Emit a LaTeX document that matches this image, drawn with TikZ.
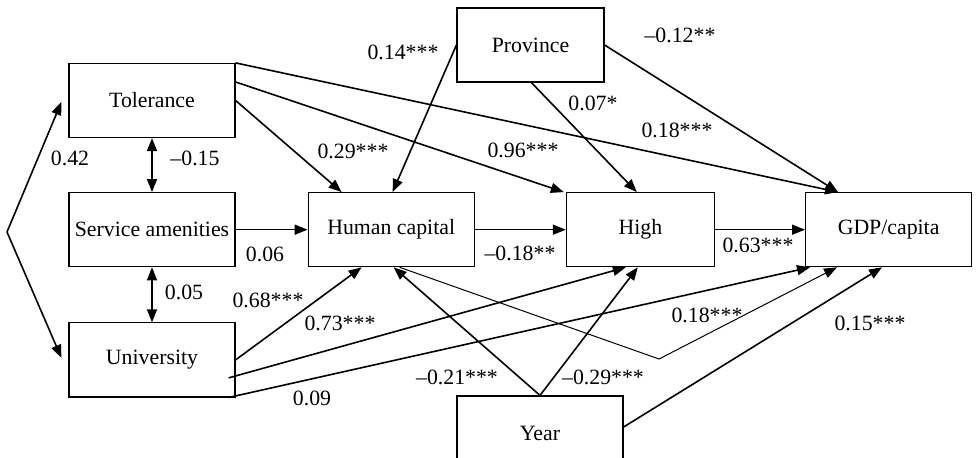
\documentclass[tikz,border=0pt]{standalone}
\usepackage{fontspec}
\setmainfont{Liberation Serif}
\usepackage{tikz}
\usetikzlibrary{arrows.meta, positioning, calc}
\tikzstyle{box}     = [rectangle, draw=black, line width=0.6pt, minimum width=83pt,
                       minimum height=37pt, inner sep=0pt, text centered,
                       font=\fontsize{10.9}{12}\selectfont]
\tikzstyle{coef}    = [inner sep=1pt, font=\fontsize{10.9}{12}\selectfont]
\tikzstyle{arr}     = [-{Triangle[length=6.5pt, width=5pt]}, line width=0.8pt]
\tikzstyle{darr}    = [{Triangle[length=6.5pt, width=5pt]}-{Triangle[length=6.5pt, width=5pt]},
                       line width=0.8pt]
\tikzstyle{arrlight}= [-{Triangle[length=6.5pt, width=5pt]}, line width=0.5pt]

\begin{document}
\begin{tikzpicture}[x=0.5pt, y=-0.5pt]
  \useasboundingbox (0,0) rectangle (977,458);

  \node[box] (tol) at (152,100.5) {Tolerance};
  \node[box, below=27pt of tol] (serv) {Service amenities};
  \node[box, below=27.5pt of serv] (univ) {University};
  \node[box, right=36pt of serv] (hc) {Human capital};
  \node[box, minimum width=74pt, right=45.5pt of hc] (high) {High};
  \node[box, right=45pt of high] (gdp) {GDP/capita};
  \node[box, minimum width=73.5pt] (prov) at (530.5,45) {Province};
  \node[box] (year) at (540,433) {Year};

  \coordinate (fork) at (7,232);
  \draw[arr] (fork) -- ($(tol.west)+(-7,1.5)$);
  \draw[arr] (fork) -- ($(univ.west)+(-7,-2)$);
  \draw[darr] (tol) -- (serv);
  \draw[darr] (serv) -- (univ);
  \draw[arr] (serv) -- (hc);
  \draw[arr] (hc) -- (high);
  \draw[arr] (high) -- (gdp);

  \draw[arr] (tol.north east) -- ($(gdp.north west)+(33,0)$);
  \draw[arr] ($(tol.east)+(0,-18.5)$) -- ($(high.north west)+(-2,0)$);
  \draw[arr] (tol.east) -- ($(hc.north west)+(34,0)$);
  \draw[arr] (prov.west) -- ($(hc.north west)+(85,0)$);
  \draw[arr] ($(prov.south west)+(75,0)$) -- ($(high.north west)+(71,0)$);
  \draw[arr] (prov.east) -- ($(gdp.north west)+(33,0)$);

  \draw[arr] (univ.east) -- ($(hc.south west)+(54,0)$);
  \draw[arr] ($(univ.east)+(-7,18)$) -- ($(high.south west)+(60,0)$);
  \draw[arr] ($(univ.south east)+(-7,0)$) -- ($(gdp.south west)+(5,0)$);

  \coordinate (bend) at (659,359);
  \draw[arrlight] ($(hc.south west)+(92,0)$) -- (bend)
      -- ($(gdp.south west)+(32,0)$);

  \draw[arr] (year.north) -- ($(hc.south west)+(86,0)$);
  \draw[arr] (year.north) -- ($(high.south west)+(72,0)$);
  \draw[arr] ($(year.east)+(0,-6)$) -- ($(gdp.south west)+(77,0)$);

  \node[coef] (cTolUniv) at (70,158) {0.42};
  \node[coef] (cTolServ) at (195,158) {–0.15};
  \node[coef] (cServUniv) at (184,292) {0.05};
  \node[coef] (cServHc) at (265,254) {0.06};
  \node[coef] (cHcHigh) at (520,253) {–0.18**};
  \node[coef] (cHighGdp) at (758,245) {0.63***};
  \node[coef] (cTolHc) at (353,151) {0.29***};
  \node[coef] (cTolHigh) at (523,150) {0.96***};
  \node[coef] (cTolGdp) at (677,130) {0.18***};
  \node[coef] (cProvHc) at (403,52) {0.14***};
  \node[coef] (cProvHigh) at (593,103) {0.07*};
  \node[coef] (cProvGdp) at (680,35) {–0.12**};
  \node[coef] (cUnivHc) at (268,300) {0.68***};
  \node[coef] (cUnivHigh) at (340,323) {0.73***};
  \node[coef] (cUnivGdp) at (312,398) {0.09};
  \node[coef] (cHcGdp) at (707,315) {0.18***};
  \node[coef] (cYearHc) at (457,377) {–0.21***};
  \node[coef] (cYearHigh) at (603,377) {–0.29***};
  \node[coef] (cYearGdp) at (870,323) {0.15***};

\end{tikzpicture}
\end{document}
